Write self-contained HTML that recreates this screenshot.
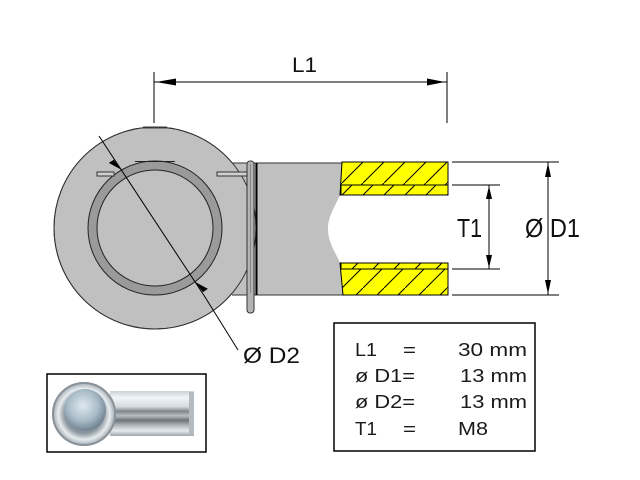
<!DOCTYPE html>
<html><head><meta charset="utf-8"><style>
html,body{margin:0;padding:0;background:#fff;}
svg{display:block;}
text{font-family:"Liberation Sans",Arial,sans-serif;}
</style></head><body>
<svg width="640" height="480" viewBox="0 0 640 480" xmlns="http://www.w3.org/2000/svg">
<defs>
<pattern id="hatch" patternUnits="userSpaceOnUse" width="21" height="21" x="342" y="162">
<rect width="21" height="21" fill="#ffff00"/>
<line x1="-1" y1="22" x2="22" y2="-1" stroke="#000" stroke-width="1"/>
</pattern>
<pattern id="hatch2" patternUnits="userSpaceOnUse" width="21" height="21" x="352" y="164">
<rect width="21" height="21" fill="#ffff00"/>
<line x1="-1" y1="22" x2="22" y2="-1" stroke="#000" stroke-width="1"/>
</pattern>
<radialGradient id="ball" cx="0.45" cy="0.4" r="0.6">
<stop offset="0" stop-color="#dfe9ef"/><stop offset="0.6" stop-color="#a9bcc8"/><stop offset="1" stop-color="#6f8290"/>
</radialGradient>
<radialGradient id="ring" cx="0.5" cy="0.5" r="0.5">
<stop offset="0.6" stop-color="#8a949c"/><stop offset="0.8" stop-color="#e6ecef"/><stop offset="1" stop-color="#9aa3aa"/>
</radialGradient>
<linearGradient id="shaft" x1="0" y1="0" x2="0" y2="1">
<stop offset="0" stop-color="#c9d2d8"/><stop offset="0.15" stop-color="#f2f5f7"/><stop offset="0.35" stop-color="#d3dadf"/>
<stop offset="0.45" stop-color="#7f868b"/><stop offset="0.55" stop-color="#b8bfc4"/><stop offset="0.65" stop-color="#6d7479"/>
<stop offset="0.75" stop-color="#a9b0b5"/><stop offset="0.88" stop-color="#e6ebee"/><stop offset="1" stop-color="#9ea6ac"/>
</linearGradient>
</defs>

<!-- L1 dimension -->
<line x1="154" y1="72" x2="154" y2="123" stroke="#000" stroke-width="1"/>
<line x1="447" y1="72" x2="447" y2="123" stroke="#000" stroke-width="1"/>
<line x1="154" y1="82" x2="447" y2="82" stroke="#000" stroke-width="1"/>
<polygon points="156,82 176,78.5 176,85.5" fill="#000"/>
<polygon points="445,82 427,78.5 427,85.5" fill="#000"/>
<text x="292" y="72" font-size="21" textLength="25" lengthAdjust="spacingAndGlyphs" fill="#111">L1</text>

<!-- big eye circle -->
<circle cx="155" cy="228" r="101" fill="#c0c0c0" stroke="#333" stroke-width="1"/>
<line x1="143" y1="127.5" x2="167" y2="127.5" stroke="#444" stroke-width="2"/>
<!-- connecting rect -->
<rect x="232" y="163" width="24" height="132" fill="#c0c0c0"/>
<circle cx="155" cy="228" r="101" fill="none" stroke="#333" stroke-width="1"/>
<line x1="232" y1="163" x2="256" y2="163" stroke="#333" stroke-width="1"/>
<line x1="232" y1="295" x2="256" y2="295" stroke="#333" stroke-width="1"/>

<!-- inner ring -->
<circle cx="155" cy="228" r="62.5" fill="none" stroke="#9a9a9a" stroke-width="9"/>
<circle cx="155" cy="228" r="67" fill="none" stroke="#222" stroke-width="1"/>
<circle cx="155" cy="228" r="58" fill="none" stroke="#222" stroke-width="1"/>
<line x1="135" y1="161.5" x2="175" y2="161.5" stroke="#222" stroke-width="1"/>

<!-- slots -->
<rect x="97" y="172" width="17" height="4" fill="#d0d0d0" stroke="#333" stroke-width="1"/>
<rect x="217" y="172" width="34" height="4" fill="#d0d0d0" stroke="#333" stroke-width="1"/>

<!-- shaft gray -->
<path d="M256,163 L342,163 L340,195 C336,205 328,215 328,229 C328,243 336,253 340,263 L343,295 L256,295 Z" fill="#c0c0c0"/>
<line x1="256" y1="163" x2="342" y2="163" stroke="#333" stroke-width="1"/>
<line x1="256" y1="295" x2="343" y2="295" stroke="#333" stroke-width="1"/>

<!-- pin -->
<rect x="247" y="161" width="7" height="152" rx="3" fill="#b4b4b4" stroke="#333" stroke-width="1"/>
<line x1="250.5" y1="164" x2="250.5" y2="293" stroke="#888" stroke-width="1"/>
<line x1="256.5" y1="163" x2="256.5" y2="295" stroke="#000" stroke-width="2"/>

<!-- yellow threaded sections -->
<path d="M342,162 L448,162 L448,195 L340,195 Z" fill="url(#hatch)" stroke="#000" stroke-width="1"/>
<rect x="341" y="185" width="107" height="10" fill="url(#hatch2)" stroke="#000" stroke-width="1"/>
<path d="M340,263 L448,263 L448,295 L343,295 Z" fill="url(#hatch)" stroke="#000" stroke-width="1"/>
<rect x="341" y="263" width="107" height="6" fill="url(#hatch2)" stroke="#000" stroke-width="1"/>

<!-- D1 dimension -->
<line x1="452" y1="162" x2="559" y2="162" stroke="#000" stroke-width="1"/>
<line x1="452" y1="295" x2="559" y2="295" stroke="#000" stroke-width="1"/>
<line x1="548" y1="162" x2="548" y2="295" stroke="#000" stroke-width="1"/>
<polygon points="548,163 545,177 551,177" fill="#000"/>
<polygon points="548,294 545,280 551,280" fill="#000"/>
<text x="525" y="237" font-size="26" textLength="55" lengthAdjust="spacingAndGlyphs" fill="#111">Ø D1</text>

<!-- T1 dimension -->
<line x1="452" y1="185" x2="500" y2="185" stroke="#000" stroke-width="1"/>
<line x1="452" y1="269" x2="500" y2="269" stroke="#000" stroke-width="1"/>
<line x1="489" y1="185" x2="489" y2="269" stroke="#000" stroke-width="1"/>
<polygon points="489,186 486,199 492,199" fill="#000"/>
<polygon points="489,268 486,255 492,255" fill="#000"/>
<text x="457" y="237" font-size="26" textLength="25" lengthAdjust="spacingAndGlyphs" fill="#111">T1</text>

<!-- D2 dimension -->
<polyline points="99,136 205,297 238,350" fill="none" stroke="#000" stroke-width="1"/>
<polygon points="121.6,169.9 113.8,159.7 108.8,162.9" fill="#000"/>
<polygon points="195.1,281.9 202.9,292.1 207.9,288.9" fill="#000"/>
<text x="243" y="363" font-size="22" textLength="57" lengthAdjust="spacingAndGlyphs" fill="#111">Ø D2</text>

<!-- table -->
<rect x="334" y="323" width="201" height="128" fill="#fff" stroke="#000" stroke-width="1.5"/>
<g font-size="18" fill="#1a1a1a">
<text x="355" y="356" textLength="22" lengthAdjust="spacingAndGlyphs">L1</text>
<text x="403" y="356" textLength="13" lengthAdjust="spacingAndGlyphs">=</text>
<text x="458" y="356" textLength="69" lengthAdjust="spacingAndGlyphs">30 mm</text>
<text x="355" y="382" textLength="60" lengthAdjust="spacingAndGlyphs">ø D1=</text>
<text x="460" y="382" textLength="67" lengthAdjust="spacingAndGlyphs">13 mm</text>
<text x="355" y="408" textLength="60" lengthAdjust="spacingAndGlyphs">ø D2=</text>
<text x="460" y="408" textLength="67" lengthAdjust="spacingAndGlyphs">13 mm</text>
<text x="355" y="435" textLength="22" lengthAdjust="spacingAndGlyphs">T1</text>
<text x="403" y="435" textLength="13" lengthAdjust="spacingAndGlyphs">=</text>
<text x="458" y="435" textLength="30" lengthAdjust="spacingAndGlyphs">M8</text>
</g>

<!-- photo -->
<rect x="47" y="374" width="159" height="78" fill="#fff" stroke="#000" stroke-width="1.5"/>
<rect x="110" y="391" width="84" height="45" fill="url(#shaft)"/>
<rect x="189" y="392" width="5" height="43" fill="#b5bcc1"/>
<circle cx="84" cy="414" r="32" fill="url(#ring)"/>
<circle cx="84" cy="414" r="31" fill="none" stroke="#8a9299" stroke-width="2"/>
<circle cx="85" cy="410" r="21" fill="url(#ball)"/>
</svg>
</body></html>
